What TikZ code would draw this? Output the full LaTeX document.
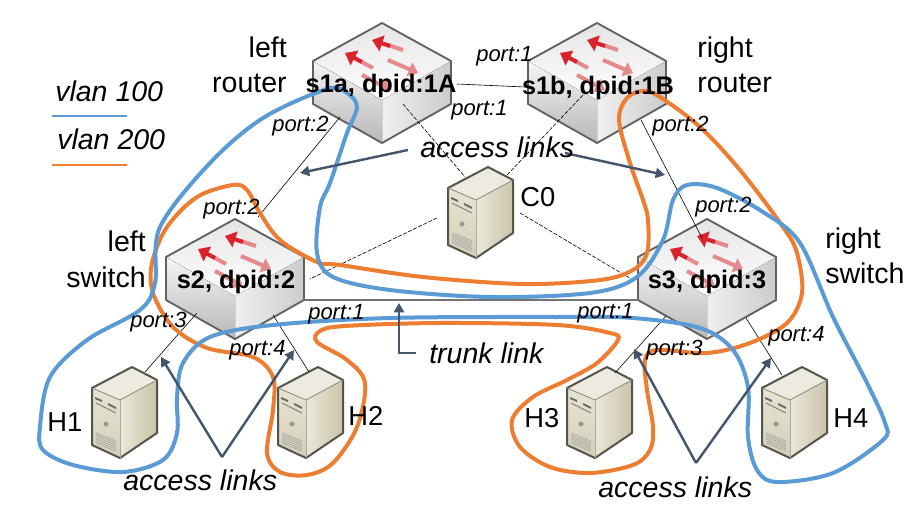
\documentclass[tikz,border=0pt]{standalone}
\usepackage{fontspec}
\setmainfont{Liberation Sans}
\usetikzlibrary{arrows.meta}
\definecolor{vblue}{HTML}{5B9BD5}
\definecolor{vorange}{HTML}{ED7D31}
\definecolor{slate}{HTML}{44546A}
\definecolor{iconred}{HTML}{D8232C}
\definecolor{softred}{HTML}{E58A8C}
\definecolor{srvtop}{HTML}{EDEADF}
\definecolor{srvlt}{HTML}{E8E4D2}
\definecolor{srvlb}{HTML}{D4CFB9}
\definecolor{srvrl}{HTML}{ECE8D9}
\definecolor{srvrd}{HTML}{C9C4A9}
\definecolor{srvline}{HTML}{55554C}
\tikzset{
  lbl/.style={inner sep=0pt,font=\fontsize{21.4}{24}\selectfont},
  ilbl/.style={inner sep=0pt,font=\fontsize{21.4}{24}\selectfont\itshape},
  plbl/.style={inner sep=0pt,font=\fontsize{16.5}{20}\selectfont\itshape,anchor=base west},
  blbl/.style={inner sep=0pt,font=\fontsize{19}{22}\selectfont\bfseries,anchor=base},
  hlbl/.style={inner sep=0pt,font=\fontsize{20.5}{24}\selectfont,anchor=base west},
  thinlink/.style={draw=black,line width=0.45pt},
  dashlink/.style={draw=black,line width=0.45pt,dash pattern=on 3pt off 1.2pt},
  trunkline/.style={draw=black!55,line width=1.3pt},
  vlanblue/.style={draw=vblue,line width=3pt,line join=round},
  vlanorange/.style={draw=vorange,line width=3pt,line join=round},
  callout/.style={draw=slate,line width=1.8pt,-{Triangle[length=7pt,width=7.5pt]}},
  redtail/.style={draw=softred,line width=3pt},
  redstrong/.style={draw=iconred,line width=3pt,-{Triangle[length=8pt,width=12pt]}},
  redsoft/.style={draw=softred,line width=3pt,-{Triangle[length=7pt,width=11pt]}},
  switchicon/.pic={
    \fill[bottom color=black!28,top color=black!4] (-69,38)--(0,77)--(0,120)--(-69,81)--cycle;
    \fill[left color=black!6,right color=black!20] (69,38)--(0,77)--(0,120)--(69,81)--cycle;
    \fill[top color=black!10,bottom color=white] (0,0)--(69,38)--(0,77)--(-69,38)--cycle;
    \draw[redtail] (21,27)--(6,22);
    \draw[redstrong] (8,23)--(-10,17);
    \draw[redtail] (-9,45)--(-22,38);
    \draw[redstrong] (-20,39)--(-37,30);
    \draw[redsoft] (6,37)--(36,50);
    \draw[redsoft] (-20,52)--(8,67);
    \draw[black!18,line width=.5pt] (0,77)--(0,120);
    \draw[black!62,line width=1.4pt,line join=round] (0,0)--(69,38)--(69,81)--(0,120)--(-69,81)--(-69,38)--cycle;
  },
  servericon/.pic={
    \fill[left color=srvrl,right color=srvrd] (-12,33)--(25,13)--(25,66)--(-12,91)--cycle;
    \fill[top color=srvlt,bottom color=srvlb] (-40,21)--(-12,33)--(-12,91)--(-40,78)--cycle;
    \fill[srvtop] (0,0)--(25,13)--(-12,33)--(-40,21)--cycle;
    \fill[black!60] (-37,30)--(-30,33)--(-30,35)--(-37,32)--cycle;
    \fill[black!60] (-24,36)--(-16,40)--(-16,42)--(-24,38)--cycle;
    \draw[black!50,line width=.8pt] (-36,36)--(-16,46);
    \fill[black!40] (-26,57) circle (2.5);
    \foreach \k in {0,2,4,6,8,10}{\draw[black!35,line width=.5pt] (-36,66+\k)--(-16,74+\k);}
    \draw[srvline,line width=1.5pt,line join=round] (0,0)--(25,13)--(25,66)--(-12,91)--(-40,78)--(-40,21)--cycle;
    \draw[srvline!70,line width=.6pt] (-40,21)--(-12,33)--(25,13);
    \draw[srvline!50,line width=.6pt] (-12,33)--(-12,91);
  }
}
\begin{document}
\begin{tikzpicture}[x=0.75pt,y=-0.75pt]
\useasboundingbox (0,0) rectangle (924,527);
\fill[white] (0,0) rectangle (924,527);

% connector ends
\coordinate (ab1) at (457,84); \coordinate (ba1) at (525,87);
\coordinate (ac) at (403,104); \coordinate (ca) at (465,177);
\coordinate (bc) at (583,95);  \coordinate (cb) at (507,175);
\coordinate (c2) at (437,218); \coordinate (s2c) at (310,279);
\coordinate (c3) at (520,213); \coordinate (s3c) at (633,280);
\coordinate (a2) at (340,117); \coordinate (s2a) at (258,217);
\coordinate (b3) at (641,120); \coordinate (s3b) at (702,238);
\coordinate (s2t) at (304,300); \coordinate (s3t) at (639,300);
\coordinate (s2h1) at (197,313); \coordinate (h1s) at (145,372);
\coordinate (s2h2) at (273,315); \coordinate (h2s) at (309,372);
\coordinate (s3h3) at (666,316); \coordinate (h3s) at (615,373);
\coordinate (s3h4) at (746,318); \coordinate (h4s) at (782,375);

% icons
\pic (s1aicon) at (382,23) {switchicon};
\pic (s1bicon) at (597,23) {switchicon};
\pic (s2icon) at (235,219) {switchicon};
\pic (s3icon) at (707,219) {switchicon};
\pic (h1icon) at (132,367) {servericon};
\pic (h2icon) at (318,367) {servericon};
\pic (h3icon) at (607,367) {servericon};
\pic (h4icon) at (802,367) {servericon};
\pic (c0icon) at (488,167) {servericon};

% links
\draw[thinlink] (ab1) -- (ba1);
\draw[dashlink] (ac) -- (ca);
\draw[dashlink] (bc) -- (cb);
\draw[dashlink] (c2) -- (s2c);
\draw[dashlink] (c3) -- (s3c);
\draw[thinlink] (a2) -- (s2a);
\draw[thinlink] (b3) -- (s3b);
\draw[trunkline] (s2t) -- (s3t);
\draw[thinlink] (s2h1) -- (h1s);
\draw[thinlink] (s2h2) -- (h2s);
\draw[thinlink] (s3h3) -- (h3s);
\draw[thinlink] (s3h4) -- (h4s);

% vlan 200
\draw[vlanorange] plot[smooth cycle,tension=.55] coordinates {
(233,185)(197,197)(167,227)(152,263)(153,293)(173,327)(207,348)(253,357)(273,377)(273,410)(267,453)(280,472)(307,475)(333,463)(357,427)(365,383)(347,360)(317,342)(320,331)(345,326)(440,323)(557,325)(610,333)(618,340)(597,363)(567,380)(533,397)(512,420)(520,447)(550,467)(590,473)(633,465)(650,450)(653,427)(647,390)(645,360)(657,350)(707,353)(750,343)(787,323)(802,293)(797,253)(783,227)(740,170)(700,127)(660,97)(643,91)(627,98)(619,120)(630,163)(643,200)(648,220)(647,253)(633,270)(600,280)(523,284)(423,277)(340,265)(317,262)(280,240)(260,213)(247,190)};
% vlan 100
\draw[vlanblue] plot[smooth cycle,tension=.55] coordinates {
(327,89)(263,118)(210,163)(160,227)(155,283)(140,310)(87,340)(50,377)(40,427)(43,450)(73,465)(123,472)(163,460)(177,433)(177,397)(183,363)(210,337)(273,325)(390,318)(557,317)(633,318)(700,328)(733,350)(748,387)(748,437)(757,470)(777,482)(833,473)(883,440)(885,423)(867,383)(833,317)(800,243)(763,212)(717,188)(687,185)(673,200)(663,240)(637,277)(590,293)(490,297)(390,290)(333,277)(317,253)(320,207)(330,183)(347,133)(357,107)(347,93)};

% call-out arrows
\coordinate (acl) at (408,150); \coordinate (aclt) at (300,173);
\coordinate (acr) at (565,153); \coordinate (acrt) at (665,175);
\coordinate (ap1) at (222,457); \coordinate (ap1a) at (161,357); \coordinate (ap1b) at (294,350);
\coordinate (ap2) at (696,463); \coordinate (ap2a) at (634,349); \coordinate (ap2b) at (771,358);
\coordinate (tr0) at (416,353); \coordinate (tr1) at (399,353); \coordinate (tr2) at (399,303);
\draw[callout] (acl) -- (aclt);
\draw[callout] (acr) -- (acrt);
\draw[callout] (ap1) -- (ap1a);
\draw[callout] (ap1) -- (ap1b);
\draw[callout] (ap2) -- (ap2a);
\draw[callout] (ap2) -- (ap2b);
\draw[callout] (tr0) -- (tr1) -- (tr2);

% legend
\coordinate (lb0) at (52,116); \coordinate (lb1) at (127,116);
\coordinate (lo0) at (52,165); \coordinate (lo1) at (127,165);
\draw[draw=vblue,line width=1.6pt] (lb0) -- (lb1);
\draw[draw=vorange,line width=1.6pt] (lo0) -- (lo1);
\node[ilbl,anchor=base west] (v100) at (55,102) {vlan 100};
\node[ilbl,anchor=base west] (v200) at (57,150) {vlan 200};

% text
\node[lbl,anchor=base east] (tl1) at (287,58) {left};
\node[lbl,anchor=base east] (tl2) at (287,93) {router};
\node[lbl,anchor=base west] (tr3) at (697,58) {right};
\node[lbl,anchor=base west] (tr4) at (697,93) {router};
\node[lbl,anchor=base east] (tl3) at (146,252) {left};
\node[lbl,anchor=base east] (tl4) at (146,287) {switch};
\node[lbl,anchor=base west] (tr5) at (825,248) {right};
\node[lbl,anchor=base west] (tr6) at (825,283) {switch};

\node[blbl] (s1a) at (381,93) {s1a, dpid:1A};
\node[blbl] (s1b) at (598,95) {s1b, dpid:1B};
\node[blbl] (s2) at (236,288) {s2, dpid:2};
\node[blbl] (s3) at (707,288) {s3, dpid:3};

\node[plbl] (p1) at (476,62) {port:1};
\node[plbl] (p2) at (451,116) {port:1};
\node[plbl] (p3) at (272,132) {port:2};
\node[plbl] (p4) at (203,215) {port:2};
\node[plbl] (p5) at (652,132) {port:2};
\node[plbl] (p6) at (695,213) {port:2};
\node[plbl] (p7) at (130,327) {port:3};
\node[plbl] (p8) at (229,355) {port:4};
\node[plbl] (p9) at (308,320) {port:1};
\node[plbl] (p10) at (577,318) {port:1};
\node[plbl] (p11) at (646,355) {port:3};
\node[plbl] (p12) at (768,341) {port:4};

\node[ilbl,anchor=base west] (al1) at (420,158) {access links};
\node[ilbl,anchor=base west] (al2) at (123,490) {access links};
\node[ilbl,anchor=base west] (al3) at (598,497) {access links};
\node[ilbl,anchor=base west] (tl) at (429,363) {trunk link};

\node[hlbl] (h1) at (47,431) {H1};
\node[hlbl] (h2) at (348,425) {H2};
\node[hlbl] (h3) at (524,427) {H3};
\node[hlbl] (h4) at (833,427) {H4};
\node[hlbl] (c0) at (520,207) {C0};
\end{tikzpicture}
\end{document}
